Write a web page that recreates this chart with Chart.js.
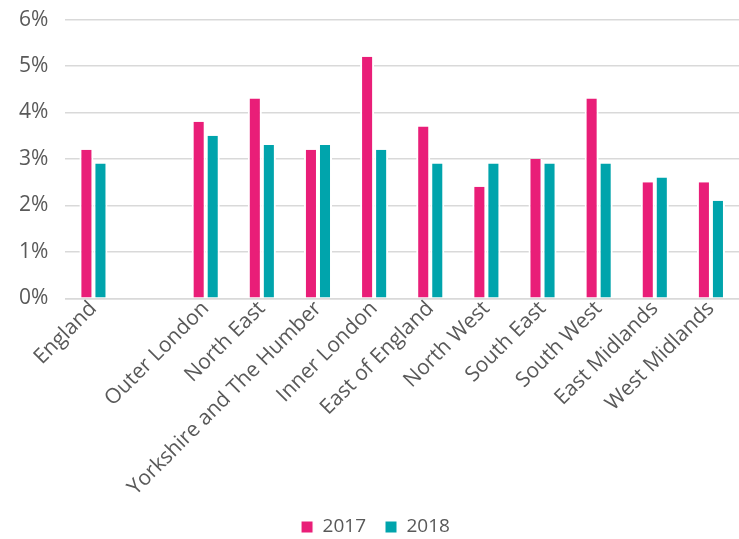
<!DOCTYPE html>
<html>
<head>
<meta charset="utf-8">
<script src="https://cdn.jsdelivr.net/npm/chart.js@4/dist/chart.umd.min.js"></script>
<style>
html,body{margin:0;padding:0;background:#fff;}
#wrap{width:739px;height:539px;position:relative;}
</style>
</head>
<body>
<div id="wrap"><canvas id="c"></canvas></div>
<script>
const categories = ["England", "", "Outer London", "North East", "Yorkshire and The Humber", "Inner London", "East of England", "North West", "South East", "South West", "East Midlands", "West Midlands"];
const values2017 = [3.2, null, 3.8, 4.3, 3.2, 5.2, 3.7, 2.4, 3.0, 4.3, 2.5, 2.5];
const values2018 = [2.9, null, 3.5, 3.3, 3.3, 3.2, 2.9, 2.9, 2.9, 2.9, 2.6, 2.1];
const seriesNames = ["2017", "2018"];

const font = "'Open Sans', Lato, sans-serif";
const textColor = "#595959";

new Chart(document.getElementById('c'), {
  type: 'bar',
  data: {
    labels: categories,
    datasets: [
      {label: seriesNames[0], data: values2017, backgroundColor: '#E91E78', borderColor: '#ffffff', borderWidth: {left: 2, right: 2, top: 0, bottom: 0}, borderSkipped: false},
      {label: seriesNames[1], data: values2018, backgroundColor: '#00A4AC', borderColor: '#ffffff', borderWidth: {left: 2, right: 2, top: 0, bottom: 0}, borderSkipped: false}
    ]
  },
  options: {
    responsive: true,
    maintainAspectRatio: false,
    animation: false,
    layout: {padding: {left: 12, right: 0, top: 0, bottom: -7.5}},
    datasets: {bar: {categoryPercentage: 0.5, barPercentage: 1}},
    plugins: {
      legend: {
        position: 'bottom',
        labels: {font: {family: font, size: 19}, color: textColor, boxWidth: 12, boxHeight: 12, padding: 19}
      },
      tooltip: {enabled: false}
    },
    scales: {
      x: {
        grid: {display: false, drawTicks: false},
        border: {color: '#d9d9d9', width: 1.5},
        ticks: {font: {family: font, size: 21}, color: textColor, minRotation: 45, maxRotation: 45, autoSkip: false, padding: -2}
      },
      y: {
        min: 0, max: 6,
        grid: {color: '#d9d9d9', lineWidth: 1.5, drawTicks: true, tickLength: 10, tickColor: 'rgba(0,0,0,0)'},
        border: {display: false},
        ticks: {stepSize: 1, font: {family: font, size: 21}, color: textColor, padding: 7, callback: v => v + '%'}
      }
    }
  }
});
</script>
</body>
</html>
